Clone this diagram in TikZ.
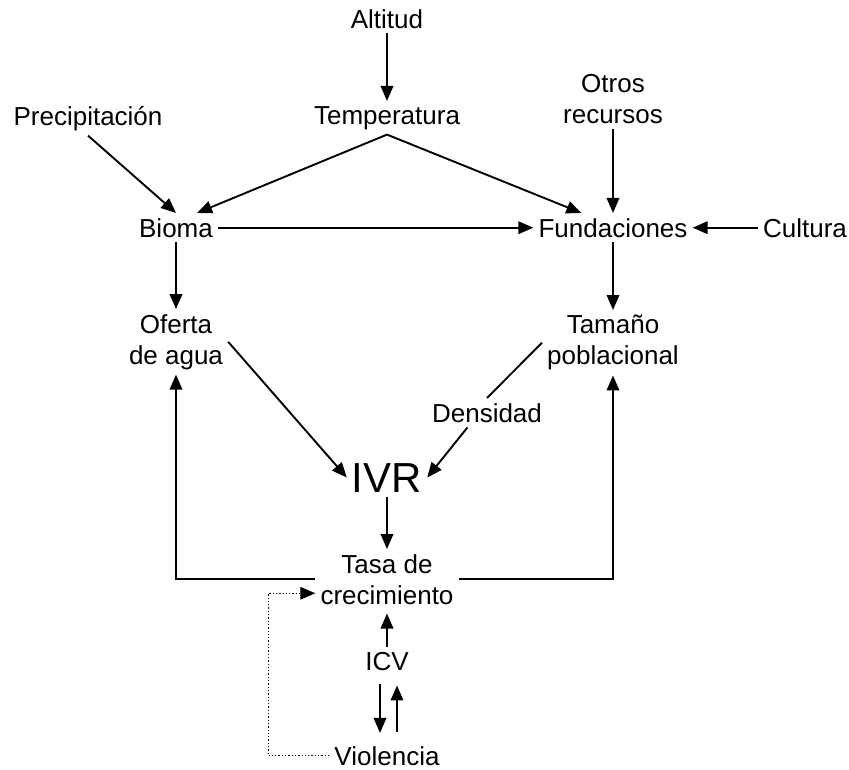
\documentclass[tikz,border=0pt]{standalone}
\usepackage{fontspec}
\setmainfont{Liberation Sans}
\usetikzlibrary{positioning}
\usetikzlibrary{calc}
\usetikzlibrary{arrows.meta}
\tikzset{>={Triangle[length=15pt,width=12.5pt]}}
\tikzset{factor/.style={inner sep=5pt, font=\fontsize{26}{31}\selectfont, align=center}}
\tikzset{pair/.style={factor, anchor=north}}
\tikzset{link/.style={draw, line width=1.9pt, ->}}
\tikzset{feedback/.style={draw, line width=1.3pt, dotted, ->}}

\begin{document}
\begin{tikzpicture}[x=1pt, y=-1pt]
    \useasboundingbox (0,0) rectangle (849,769);

    \node [factor, anchor=base] (alt) at (387,28) {Altitud};
    \node [factor, anchor=base] (temp) at (387,124) {Temperatura};
    \node [factor, anchor=base] (prec) at (88,125) {Precipitación};
    \node [pair] (otros) at (613,69) {Otros\\recursos};

    \node [factor, anchor=base] (bioma) at (176,237) {Bioma};
    \node [factor, anchor=base] (fund) at (613,237) {Fundaciones};
    \node [factor, anchor=base] (cult) at (805,237) {Cultura};

    \node [pair] (oferta) at (176,309) {Oferta\\de agua};
    \node [pair] (tamano) at (613,310) {Tamaño\\poblacional};
    \node [factor, anchor=base] (dens) at (487,422) {Densidad};

    \node [factor, anchor=base, font=\fontsize{42}{46}\selectfont] (ivr) at (387,492) {IVR};
    \node [pair] (tasa) at (387,549) {Tasa de\\crecimiento};
    \node [factor, anchor=base] (icv) at (387,670) {ICV};
    \node [factor, anchor=base] (viol) at (387,765) {Violencia};

    % upper part
    \draw [link] (alt) -- (temp);
    \draw [link] (prec.south) -- (bioma.north);
    \draw [link] (temp.south) -- (bioma.35);
    \draw [link] (temp.south) -- (fund.155);
    \draw [link] (otros) -- (fund);
    \draw [link] (bioma) -- (fund);
    \draw [link] (cult) -- (fund);
    \draw [link] (bioma) -- (oferta);
    \draw [link] (fund) -- (tamano);

    % towards IVR
    \draw [link] (oferta.east) -- (ivr.west);
    \draw [line width=1.9pt] (tamano.west) -- (dens.north);
    \draw [link] (dens.-143) -- (ivr.east);
    \draw [link] (ivr) -- (tasa);

    % loops back from the growth rate
    \draw [link] (tasa.west) -| (oferta.south);
    \draw [link] (tasa.east) -| (tamano.south);
    \draw [link, shorten >=4pt] (icv) -- (tasa);
    \draw [link, shorten <=9pt, shorten >=8pt] ([xshift=-7pt]icv.south) -- ([xshift=-7pt]viol.north);
    \draw [link, shorten <=9pt, shorten >=10pt] ([xshift=10pt]viol.north) -- ([xshift=10pt]icv.south);
    \draw [feedback] (viol.west) -| ([xshift=-47pt,yshift=-14pt]tasa.west) -- ([yshift=-14pt]tasa.west);

\end{tikzpicture}
\end{document}
